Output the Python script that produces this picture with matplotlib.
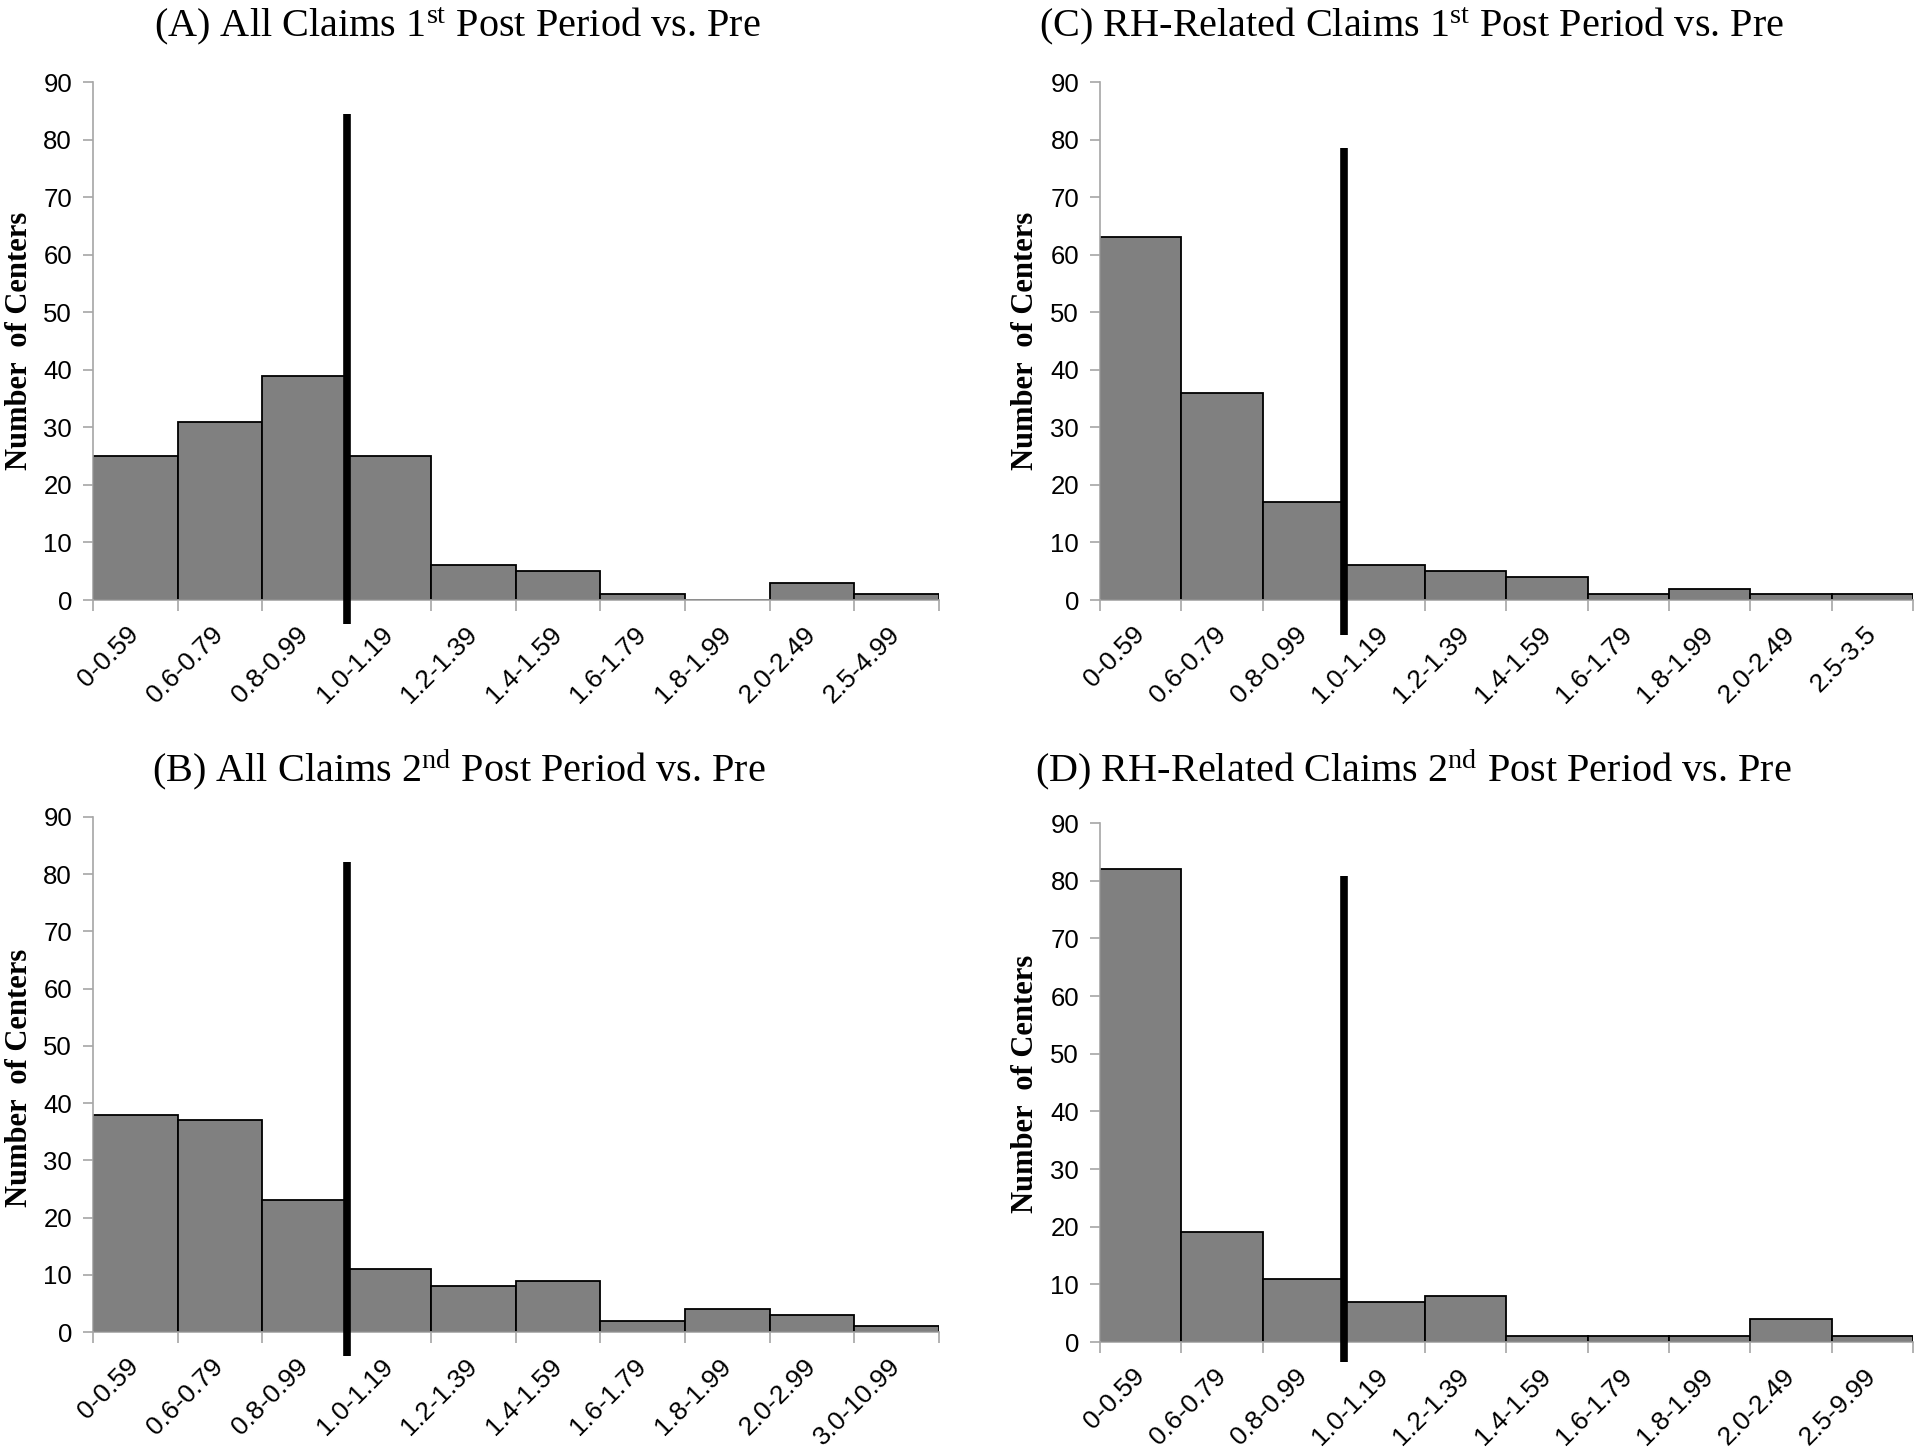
import matplotlib
matplotlib.use("Agg")
from matplotlib import pyplot as plt
from matplotlib import font_manager

# --- data ---
labels_a = ["0-0.59", "0.6-0.79", "0.8-0.99", "1.0-1.19", "1.2-1.39",
            "1.4-1.59", "1.6-1.79", "1.8-1.99", "2.0-2.49", "2.5-4.99"]
values_a = [25, 31, 39, 25, 6, 5, 1, 0, 3, 1]

labels_b = ["0-0.59", "0.6-0.79", "0.8-0.99", "1.0-1.19", "1.2-1.39",
            "1.4-1.59", "1.6-1.79", "1.8-1.99", "2.0-2.99", "3.0-10.99"]
values_b = [38, 37, 23, 11, 8, 9, 2, 4, 3, 1]

labels_c = ["0-0.59", "0.6-0.79", "0.8-0.99", "1.0-1.19", "1.2-1.39",
            "1.4-1.59", "1.6-1.79", "1.8-1.99", "2.0-2.49", "2.5-3.5"]
values_c = [63, 36, 17, 6, 5, 4, 1, 2, 1, 1]

labels_d = ["0-0.59", "0.6-0.79", "0.8-0.99", "1.0-1.19", "1.2-1.39",
            "1.4-1.59", "1.6-1.79", "1.8-1.99", "2.0-2.49", "2.5-9.99"]
values_d = [82, 19, 11, 7, 8, 1, 1, 1, 4, 1]

# reference line (ratio = 1.0) top / bottom values for each panel
ref_top = {"A": 84.4, "B": 82.2, "C": 78.5, "D": 80.8}
ref_bottom = {"A": -4.1, "B": -4.1, "C": -6.0, "D": -3.5}

titles = {
    "A": r"(A) All Claims 1$^{\mathrm{st}}$ Post Period vs. Pre",
    "B": r"(B) All Claims 2$^{\mathrm{nd}}$ Post Period vs. Pre",
    "C": r"(C) RH-Related Claims 1$^{\mathrm{st}}$ Post Period vs. Pre",
    "D": r"(D) RH-Related Claims 2$^{\mathrm{nd}}$ Post Period vs. Pre",
}

installed = {f.name for f in font_manager.fontManager.ttflist}
TICK_FONT = "Liberation Sans Narrow" if "Liberation Sans Narrow" in installed else "Liberation Sans"
SERIF = "Liberation Serif"

plt.rcParams["mathtext.fontset"] = "custom"
plt.rcParams["mathtext.rm"] = SERIF
plt.rcParams["mathtext.it"] = SERIF + ":italic"
plt.rcParams["mathtext.bf"] = SERIF + ":bold"

fig = plt.figure(figsize=(19.2, 14.49), dpi=100)

# [left, bottom, width, height], title pos, ylabel pos
panels = {
    "A": (labels_a, values_a, [0.0484, 0.5859, 0.4406, 0.3575], (0.238, 0.982), (0.010, 0.765)),
    "C": (labels_c, values_c, [0.5729, 0.5859, 0.4234, 0.3575], (0.735, 0.982), (0.534, 0.765)),
    "B": (labels_b, values_b, [0.0484, 0.0807, 0.4406, 0.3555], (0.239, 0.469), (0.010, 0.256)),
    "D": (labels_d, values_d, [0.5729, 0.0738, 0.4234, 0.3582], (0.736, 0.469), (0.534, 0.252)),
}

for key, (labels, values, rect, tpos, ypos) in panels.items():
    ax = fig.add_axes(rect)
    x = list(range(len(values)))
    ax.bar(x, values, width=1.0, color="#808080", edgecolor="black", linewidth=1.3, zorder=2)

    # black reference line at the 1.0 boundary
    xr = labels.index("1.0-1.19") - 0.5
    ax.plot([xr, xr], [ref_bottom[key], ref_top[key]], color="black", linewidth=5.5,
            solid_capstyle="butt", clip_on=False, zorder=3)

    ax.set_xlim(-0.5, len(values) - 0.5)
    ax.set_ylim(0, 90)
    ax.set_yticks(range(0, 91, 10))

    for s in ["top", "right"]:
        ax.spines[s].set_visible(False)
    for s in ["left", "bottom"]:
        ax.spines[s].set_color("#a6a6a6")
        ax.spines[s].set_linewidth(1.2)

    # category labels at bar centres, tick marks at bar edges
    ax.set_xticks(x)
    ax.set_xticklabels(labels, rotation=45, ha="right", va="center", rotation_mode="anchor",
                       fontfamily=TICK_FONT, fontsize=19)
    ax.tick_params(axis="x", which="major", length=0, pad=22)
    ax.set_xticks([i - 0.5 for i in range(len(values) + 1)], minor=True)
    ax.tick_params(axis="x", which="minor", length=8, color="#a6a6a6", width=1.2)
    ax.tick_params(axis="y", length=7, color="#a6a6a6", width=1.2, pad=8)
    for t in ax.get_yticklabels():
        t.set_fontfamily(TICK_FONT)
        t.set_fontsize(18.5)

    fig.text(tpos[0], tpos[1], titles[key], ha="center", va="center",
             fontfamily=SERIF, fontsize=29)
    fig.text(ypos[0], ypos[1], "Number  of Centers", rotation=90, ha="center", va="center",
             fontfamily=SERIF, fontweight="bold", fontsize=22)

plt.savefig("out.png", dpi=100)
